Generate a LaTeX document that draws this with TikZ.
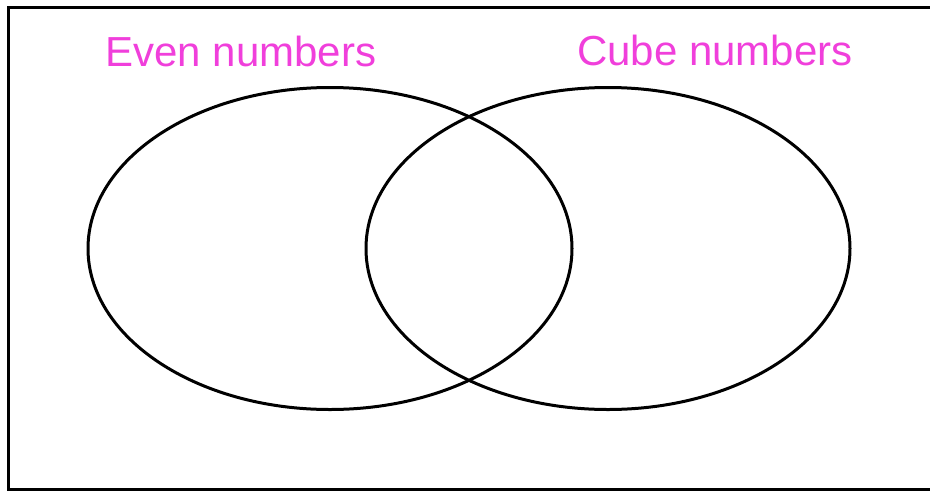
\documentclass[tikz,border=0pt]{standalone}
\usepackage{fontspec}
\setmainfont{Liberation Sans}
\usetikzlibrary{shapes.geometric}
\definecolor{setPink}{HTML}{F03FDB}

\begin{document}
\begin{tikzpicture}[x=1pt,y=-1pt,every node/.style={font=\fontsize{42}{50}\selectfont}]
  \tikzstyle{set}=[draw=black,line width=3pt,ellipse,minimum width=484pt,
                   minimum height=322pt,inner sep=0pt]
  \tikzstyle{lbl}=[text=setPink,anchor=base,inner sep=0pt]
  \useasboundingbox (0,0) rectangle (930,491);
  % frame, right side runs off the page
  \draw[line width=3pt] (8,7) rectangle (936,489);
  \node[set] (even) at (330,248.5) {};
  \node[set] (cube) at (608,248.5) {};
  \node[lbl] (evenlbl) at (241,66) {Even numbers};
  \node[lbl] (cubelbl) at (715,65) {Cube numbers};
\end{tikzpicture}
\end{document}
